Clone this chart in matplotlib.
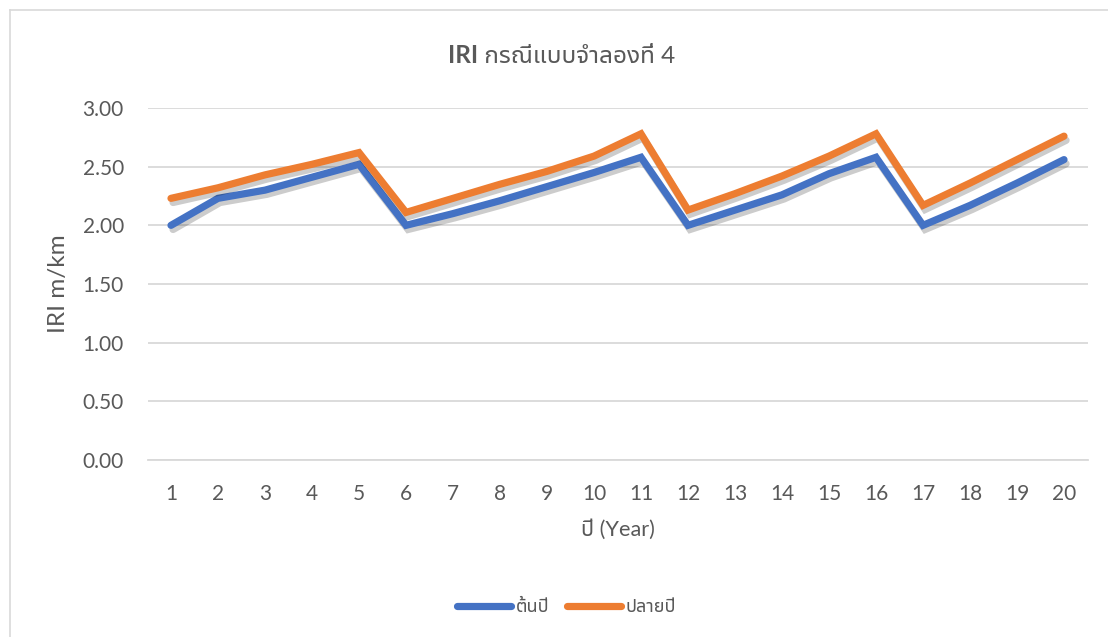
import matplotlib
matplotlib.use("Agg")
import matplotlib.pyplot as plt
import matplotlib.patheffects as pe
from matplotlib.lines import Line2D

plt.rcParams['font.family'] = ['Lato', 'Noto Sans Thai UI', 'DejaVu Sans']

# IRI per year, start of year vs end of year
years = list(range(1, 21))
iri_start = [2.00, 2.23, 2.30, 2.41, 2.52, 2.00, 2.10, 2.21, 2.33, 2.45,
             2.58, 2.00, 2.13, 2.26, 2.44, 2.58, 2.00, 2.17, 2.36, 2.56]
iri_end = [2.23, 2.32, 2.43, 2.52, 2.62, 2.11, 2.23, 2.35, 2.46, 2.59,
           2.78, 2.13, 2.27, 2.42, 2.59, 2.78, 2.17, 2.36, 2.56, 2.76]
series_names = ['ต้นปี', 'ปลายปี']
colors = ['#4472C4', '#ED7D31']
y_ticks = [0.0, 0.5, 1.0, 1.5, 2.0, 2.5, 3.0]

text_color = '#595959'
W, H = 1108, 637

fig = plt.figure(figsize=(W / 100, H / 100), dpi=100)
renderer = fig.canvas.get_renderer()


def fit_size(txt, target, horizontal=True):
    # scale the font so the text spans `target` pixels
    bb = txt.get_window_extent(renderer)
    cur = bb.width if horizontal else bb.height
    txt.set_fontsize(txt.get_fontsize() * target / cur)


ax = fig.add_axes([147.5 / W, 1 - 460 / H, 940 / W, 352 / H])

shadow = [pe.SimpleLineShadow(offset=(1.5, -3), shadow_color='black', alpha=0.2),
          pe.Normal()]
for vals, name, c in zip([iri_start, iri_end], series_names, colors):
    ax.plot(years, vals, color=c, lw=5.2, label=name,
            solid_capstyle='round', solid_joinstyle='miter', path_effects=shadow, zorder=3)

ax.set_xlim(0.5, 20.5)
ax.set_ylim(0, 3)
ax.set_xticks(years)
ax.set_yticks(y_ticks)
ax.set_yticklabels([f'{v:.2f}' for v in y_ticks])
ax.grid(axis='y', color='#D9D9D9', lw=1.3)
ax.set_axisbelow(True)
for s in ax.spines.values():
    s.set_visible(False)
ax.spines['bottom'].set_visible(True)
ax.spines['bottom'].set_color('#D9D9D9')
ax.spines['bottom'].set_linewidth(1.3)
ax.tick_params(axis='both', length=0, labelsize=15, labelcolor=text_color)
ax.tick_params(axis='y', pad=17)
ax.tick_params(axis='x', pad=17)

ylab = fig.text(58 / W, 1 - 284 / H, 'IRI m/km', rotation=90, ha='center', va='center',
                fontsize=17, color=text_color)
fit_size(ylab, 98, horizontal=False)

xlab = fig.text(618 / W, 1 - 530 / H, 'ปี (Year)', ha='center', va='center',
                fontsize=16, color=text_color)
fit_size(xlab, 74)

# title: bold "IRI" followed by regular Thai text on one baseline
t1 = fig.text(448 / W, 1 - 63 / H, 'IRI', fontsize=18, fontweight='bold',
              color=text_color, va='baseline', ha='left')
t2 = fig.text(0, 1 - 63 / H, ' กรณีแบบจำลองที่ 4', fontsize=18,
              color=text_color, va='baseline', ha='left')
w1 = t1.get_window_extent(renderer).width
w2 = t2.get_window_extent(renderer).width
scale = 227 / (w1 + w2)
t1.set_fontsize(18 * scale)
t2.set_fontsize(18 * scale)
t2.set_x((448 + w1 * scale) / W)

handles = [Line2D([], [], color=c, lw=5.2, solid_capstyle='round') for c in colors]
fig.legend(handles, series_names, loc='center', bbox_to_anchor=(566.5 / W, 1 - 607 / H),
           ncol=2, frameon=False, fontsize=13, labelcolor=text_color,
           handlelength=3.0, handletextpad=0.25, columnspacing=1.0)

# chart area border
fig.add_artist(Line2D([10 / W, 10 / W], [0, 1 - 10 / H], color='#D9D9D9', lw=1.2))
fig.add_artist(Line2D([10 / W, 1], [1 - 10 / H, 1 - 10 / H], color='#D9D9D9', lw=1.2))

fig.savefig('out.png', dpi=100)
